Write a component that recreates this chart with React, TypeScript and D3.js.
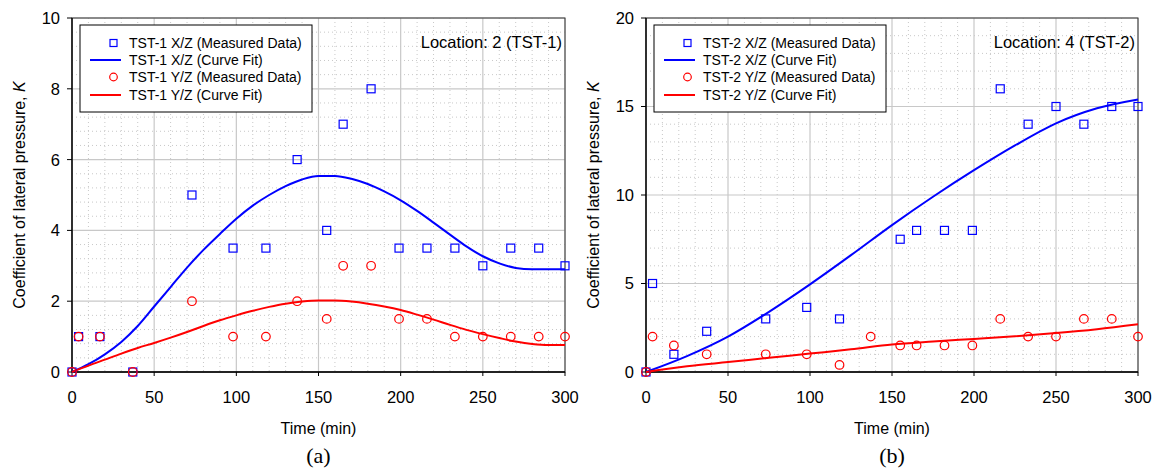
import React from 'react';
import * as d3 from 'd3';

// measurement times (min)
const timesA = [0, 4, 17, 37, 73, 98, 118, 137, 155, 165, 182, 199, 216, 233, 250, 267, 284, 300];
const xzA = [0, 1, 1, 0, 5, 3.5, 3.5, 6, 4, 7, 8, 3.5, 3.5, 3.5, 3, 3.5, 3.5, 3];
const yzA = [0, 1, 1, 0, 2, 1, 1, 2, 1.5, 3, 3, 1.5, 1.5, 1, 1, 1, 1, 1];

const fitTimeA = [0, 10, 20, 30, 40, 50, 60, 70, 80, 90, 100, 110, 120, 130, 140, 150, 160, 170, 180, 190, 200, 210, 220, 230, 240, 250, 260, 270, 280, 290, 300];
const fitXzA = [0, 0.22, 0.5, 0.85, 1.3, 1.85, 2.4, 2.95, 3.45, 3.9, 4.33, 4.7, 5.0, 5.25, 5.44, 5.54, 5.54, 5.46, 5.31, 5.1, 4.85, 4.55, 4.22, 3.88, 3.55, 3.27, 3.07, 2.94, 2.9, 2.9, 2.9];
const fitYzA = [0, 0.18, 0.35, 0.52, 0.68, 0.82, 0.97, 1.13, 1.3, 1.46, 1.6, 1.73, 1.84, 1.93, 1.99, 2.02, 2.02, 1.99, 1.93, 1.85, 1.75, 1.62, 1.48, 1.33, 1.19, 1.07, 0.96, 0.86, 0.79, 0.76, 0.76];

const timesB = [0, 4, 17, 37, 73, 98, 118, 137, 155, 165, 182, 199, 216, 233, 250, 267, 284, 300];
const xzB = [0, 5, 1, 2.3, 3, 3.65, 3, null, 7.5, 8, 8, 8, 16, 14, 15, 14, 15, 15];
const yzB = [0, 2, 1.5, 1, 1, 1, 0.4, 2, 1.5, 1.5, 1.5, 1.5, 3, 2, 2, 3, 3, 2];

const fitTimeB = [0, 25, 50, 75, 100, 125, 150, 175, 200, 225, 250, 275, 300];
const fitXzB = [0, 0.9, 2.0, 3.4, 4.95, 6.6, 8.3, 9.9, 11.4, 12.8, 14.05, 14.9, 15.4];
const fitYzB = [0, 0.32, 0.56, 0.8, 1.04, 1.28, 1.55, 1.72, 1.87, 2.02, 2.2, 2.42, 2.7];

const xTicks = [0, 50, 100, 150, 200, 250, 300];
const yTicksA = [0, 2, 4, 6, 8, 10];
const yTicksB = [0, 5, 10, 15, 20];

const BLUE = '#0000ff';
const RED = '#ff0000';
const GRID = '#c8c8c8';
const FONT = '"Liberation Sans", Arimo, sans-serif';

type PanelProps = {
  left: number;
  right: number;
  yMax: number;
  yTicks: number[];
  yMinorStep: number;
  times: number[];
  xz: (number | null)[];
  yz: (number | null)[];
  fitTime: number[];
  fitXz: number[];
  fitYz: number[];
  tag: string;
  location: string;
  letter: string;
};

function Panel(p: PanelProps) {
  const top = 18;
  const bottom = 372;
  const x = d3.scaleLinear().domain([0, 300]).range([p.left, p.right]);
  const y = d3.scaleLinear().domain([0, p.yMax]).range([bottom, top]);

  const xMinor = d3.range(0, 301, 10).filter((v) => v % 50 !== 0);
  const yMinor = d3.range(0, p.yMax + 1e-9, p.yMinorStep).filter(
    (v) => !p.yTicks.some((t) => Math.abs(t - v) < 1e-6)
  );

  const line = d3
    .line<[number, number]>()
    .x((d) => x(d[0]))
    .y((d) => y(d[1]))
    .curve(d3.curveMonotoneX);

  const fitA: [number, number][] = p.fitTime.map((t, i) => [t, p.fitXz[i]]);
  const fitB: [number, number][] = p.fitTime.map((t, i) => [t, p.fitYz[i]]);

  const midX = (p.left + p.right) / 2;
  const lgX = p.left + 8;
  const rows = [43, 60, 77, 95];
  const labels = [
    `${p.tag} X/Z (Measured Data)`,
    `${p.tag} X/Z (Curve Fit)`,
    `${p.tag} Y/Z (Measured Data)`,
    `${p.tag} Y/Z (Curve Fit)`,
  ];

  return (
    <g fontFamily={FONT}>
      {/* minor grid */}
      {xMinor.map((v) => (
        <line key={'xm' + v} x1={x(v)} x2={x(v)} y1={top} y2={bottom} stroke={GRID} strokeDasharray="1,3" />
      ))}
      {yMinor.map((v) => (
        <line key={'ym' + v} x1={p.left} x2={p.right} y1={y(v)} y2={y(v)} stroke={GRID} strokeDasharray="1,3" />
      ))}
      {/* major grid */}
      {xTicks.map((v) => (
        <line key={'xg' + v} x1={x(v)} x2={x(v)} y1={top} y2={bottom} stroke={GRID} strokeWidth={1.2} />
      ))}
      {p.yTicks.map((v) => (
        <line key={'yg' + v} x1={p.left} x2={p.right} y1={y(v)} y2={y(v)} stroke={GRID} strokeWidth={1.2} />
      ))}
      {/* frame */}
      <rect x={p.left} y={top} width={p.right - p.left} height={bottom - top} fill="none" stroke="#333" strokeWidth={1} />
      <line x1={p.left} x2={p.left} y1={top} y2={bottom} stroke="#000" strokeWidth={1.3} />
      <line x1={p.left} x2={p.right} y1={bottom} y2={bottom} stroke="#000" strokeWidth={1.3} />

      {/* ticks & labels */}
      {p.yTicks.map((v) => (
        <g key={'yt' + v}>
          <line x1={p.left - 5} x2={p.left} y1={y(v)} y2={y(v)} stroke="#000" />
          <text x={p.left - 12} y={y(v)} dy="0.36em" textAnchor="end" fontSize={16.5}>
            {v}
          </text>
        </g>
      ))}
      {xTicks.map((v) => (
        <g key={'xt' + v}>
          <line x1={x(v)} x2={x(v)} y1={bottom} y2={bottom + 4} stroke="#000" />
          <text x={x(v)} y={403} textAnchor="middle" fontSize={16.5}>
            {v}
          </text>
        </g>
      ))}

      <text
        transform={`translate(${p.left - 53},${(top + bottom) / 2}) rotate(-90)`}
        textAnchor="middle"
        dy="0.35em"
        fontSize={16}
      >
        Coefficient of lateral pressure, <tspan fontStyle="italic">K</tspan>
      </text>
      <text x={midX} y={434} textAnchor="middle" fontSize={16}>
        Time (min)
      </text>
      <text x={midX} y={463} textAnchor="middle" fontSize={22} fontFamily='"Liberation Serif", "Times New Roman", serif'>
        {p.letter}
      </text>

      {/* curves */}
      <path d={line(fitA) ?? ''} fill="none" stroke={BLUE} strokeWidth={2} />
      <path d={line(fitB) ?? ''} fill="none" stroke={RED} strokeWidth={2} />

      {/* measured */}
      {p.times.map((t, i) =>
        p.xz[i] == null ? null : (
          <rect key={'sq' + i} x={x(t) - 4} y={y(p.xz[i] as number) - 4} width={8} height={8} fill="none" stroke={BLUE} strokeWidth={1.2} />
        )
      )}
      {p.times.map((t, i) =>
        p.yz[i] == null ? null : (
          <circle key={'ci' + i} cx={x(t)} cy={y(p.yz[i] as number)} r={4.3} fill="none" stroke={RED} strokeWidth={1.2} />
        )
      )}

      {/* location */}
      <text x={p.right - 3} y={48} textAnchor="end" fontSize={16.5}>
        {p.location}
      </text>

      {/* legend */}
      <rect x={lgX} y={25} width={232} height={87} fill="#fff" stroke="#000" strokeWidth={1} />
      <rect x={lgX + 30} y={rows[0] - 3.5} width={7} height={7} fill="none" stroke={BLUE} strokeWidth={1.2} />
      <line x1={lgX + 10} x2={lgX + 41} y1={rows[1]} y2={rows[1]} stroke={BLUE} strokeWidth={2} />
      <circle cx={lgX + 33.5} cy={rows[2]} r={3.8} fill="none" stroke={RED} strokeWidth={1.2} />
      <line x1={lgX + 10} x2={lgX + 41} y1={rows[3]} y2={rows[3]} stroke={RED} strokeWidth={2} />
      {labels.map((s, i) => (
        <text key={s} x={lgX + 49} y={rows[i]} dy="0.36em" fontSize={14}>
          {s}
        </text>
      ))}
    </g>
  );
}

export default function App() {
  return (
    <svg width={1156} height={472} style={{ position: 'absolute', left: 0, top: 0, background: '#fff' }}>
      <Panel
        left={72}
        right={565}
        yMax={10}
        yTicks={yTicksA}
        yMinorStep={0.4}
        times={timesA}
        xz={xzA}
        yz={yzA}
        fitTime={fitTimeA}
        fitXz={fitXzA}
        fitYz={fitYzA}
        tag="TST-1"
        location="Location: 2 (TST-1)"
        letter="(a)"
      />
      <Panel
        left={646}
        right={1138}
        yMax={20}
        yTicks={yTicksB}
        yMinorStep={1}
        times={timesB}
        xz={xzB}
        yz={yzB}
        fitTime={fitTimeB}
        fitXz={fitXzB}
        fitYz={fitYzB}
        tag="TST-2"
        location="Location: 4 (TST-2)"
        letter="(b)"
      />
    </svg>
  );
}
